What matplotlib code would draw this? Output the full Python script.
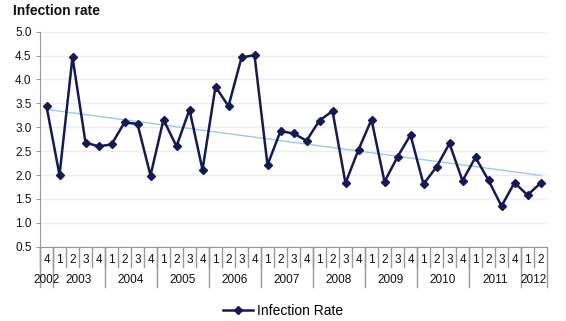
import matplotlib
matplotlib.use('Agg')
import matplotlib.pyplot as plt
import numpy as np

plt.rcParams['font.family'] = ['Liberation Sans', 'DejaVu Sans']

# quarterly data, 2002 Q4 .. 2012 Q2
quarters = ['4',
            '1', '2', '3', '4', '1', '2', '3', '4', '1', '2', '3', '4',
            '1', '2', '3', '4', '1', '2', '3', '4', '1', '2', '3', '4',
            '1', '2', '3', '4', '1', '2', '3', '4', '1', '2', '3', '4',
            '1', '2']
years = ['2002', '2003', '2004', '2005', '2006', '2007', '2008',
         '2009', '2010', '2011', '2012']
year_counts = [1, 4, 4, 4, 4, 4, 4, 4, 4, 4, 2]
infection_rate = [3.44,
                  2.00, 4.47, 2.68, 2.60,
                  2.64, 3.10, 3.07, 1.99,
                  3.16, 2.60, 3.37, 2.11,
                  3.85, 3.44, 4.46, 4.51,
                  2.21, 2.92, 2.87, 2.72,
                  3.14, 3.34, 1.83, 2.53,
                  3.16, 1.86, 2.38, 2.84,
                  1.81, 2.17, 2.66, 1.88,
                  2.37, 1.89, 1.35, 1.84,
                  1.58, 1.83]

navy = '#141a55'
x = np.arange(len(infection_rate))

fig = plt.figure(figsize=(5.66, 3.21), dpi=100)
ax = fig.add_axes([40 / 566, 1 - 246.7 / 321, 507 / 566, 215 / 321])

# linear trend line
k, b = np.polyfit(x, infection_rate, 1)
ax.plot(x, k * x + b, color='#9cc8ec', lw=1.0, zorder=2)

ax.plot(x, infection_rate, color=navy, lw=1.8, marker='D', ms=4.5,
        label='Infection Rate', zorder=3)

ax.set_xlim(-0.5, len(x) - 0.5)
ax.set_ylim(0.5, 5.0)
ax.set_yticks(np.arange(0.5, 5.01, 0.5))
ax.set_yticklabels(['%.1f' % v for v in np.arange(0.5, 5.01, 0.5)])
ax.yaxis.grid(True, color='#ececec', lw=1)
ax.set_axisbelow(True)
ax.set_xticks([])
ax.tick_params(axis='y', labelsize=8.5, length=3, color='#999999', pad=3,
               labelcolor='#111111')
for s in ['top', 'right']:
    ax.spines[s].set_visible(False)
for s in ['left', 'bottom']:
    ax.spines[s].set_color('#999999')

# two-level category axis
tr = ax.get_xaxis_transform()
for i, q in enumerate(quarters):
    ax.text(i, -0.062, q, transform=tr, ha='center', va='center',
            fontsize=8.5, color='#111111')
    ax.plot([i - 0.5, i - 0.5], [0, -0.094], transform=tr, color='#999999',
            lw=1, clip_on=False)
start = 0
for y, n in zip(years, year_counts):
    ax.text(start + (n - 1) / 2, -0.155, y, transform=tr, ha='center',
            va='center', fontsize=8.5, color='#111111')
    ax.plot([start - 0.5, start - 0.5], [0, -0.187], transform=tr,
            color='#999999', lw=1, clip_on=False)
    start += n
ax.plot([start - 0.5, start - 0.5], [0, -0.187], transform=tr,
        color='#999999', lw=1, clip_on=False)

fig.text(13 / 566, 1 - 11 / 321, 'Infection rate', fontsize=10,
         fontweight='bold', va='center', ha='left', color='#111111')
fig.legend(loc='center', bbox_to_anchor=(0.5, 1 - 311 / 321), frameon=False,
           fontsize=10, handlelength=2.2, handletextpad=0.3)

fig.savefig('out.png', dpi=100)
